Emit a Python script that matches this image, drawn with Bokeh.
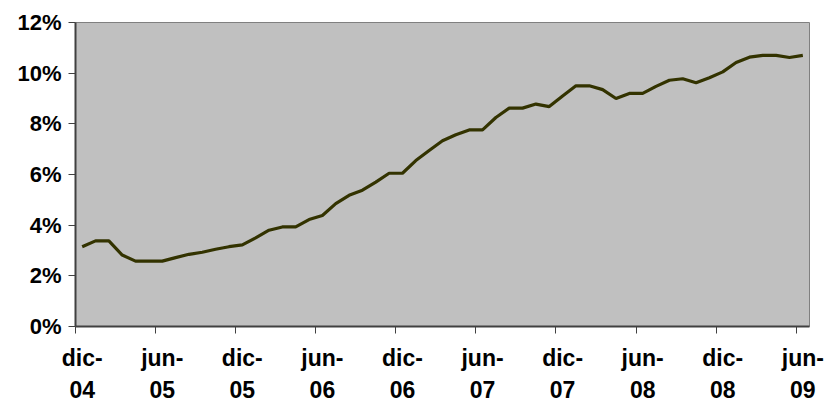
from bokeh.plotting import figure
from bokeh.models import FixedTicker, PrintfTickFormatter, Range1d, ColumnDataSource
from bokeh.embed import file_html
from bokeh.resources import INLINE

# Monthly index: 0 = dic-04 ... 54 = jun-09
months = list(range(55))
rate = [3.15, 3.38, 3.38, 2.82, 2.58, 2.58, 2.58, 2.72, 2.85, 2.93,
        3.05, 3.15, 3.22, 3.50, 3.80, 3.93, 3.93, 4.22, 4.38, 4.85,
        5.18, 5.38, 5.70, 6.05, 6.05, 6.55, 6.95, 7.33, 7.57, 7.76,
        7.76, 8.25, 8.62, 8.62, 8.78, 8.68, 9.10, 9.50, 9.50, 9.35,
        9.00, 9.20, 9.20, 9.48, 9.72, 9.78, 9.62, 9.82, 10.05, 10.42,
        10.63, 10.70, 10.70, 10.62, 10.70]

label_months = [0, 6, 12, 18, 24, 30, 36, 42, 48, 54]
tick_labels = ["dic-\n04", "jun-\n05", "dic-\n05", "jun-\n06", "dic-\n06",
               "jun-\n07", "dic-\n07", "jun-\n08", "dic-\n08", "jun-\n09"]
y_ticks = [0, 2, 4, 6, 8, 10, 12]

src = ColumnDataSource(dict(x=months, y=rate))

p = figure(width=827, height=405, output_backend="svg", toolbar_location=None,
           x_range=Range1d(-0.5, 54.5), y_range=Range1d(0, 12),
           min_border_left=75, min_border_right=18, min_border_top=22,
           min_border_bottom=79,
           background_fill_color="#C0C0C0", border_fill_color="white")

p.line("x", "y", source=src, line_color="#333300", line_width=3.2)

p.grid.visible = False
p.outline_line_color = "#808080"
p.outline_line_width = 1

FONT = "Liberation Sans"

xa = p.xaxis[0]
xa.ticker = FixedTicker(ticks=label_months,
                        minor_ticks=[m - 0.5 for m in label_months])
xa.major_label_overrides = {m: t for m, t in zip(label_months, tick_labels)}
xa.major_tick_out = 0
xa.major_tick_in = 0
xa.minor_tick_out = 7
xa.minor_tick_in = 0
xa.minor_tick_line_color = "#404040"
xa.minor_tick_line_width = 1
xa.axis_line_color = "#404040"
xa.axis_line_width = 2
xa.major_label_standoff = 11
xa.major_label_text_font = FONT
xa.major_label_text_font_style = "bold"
xa.major_label_text_font_size = "23px"
xa.major_label_text_color = "black"
xa.major_label_text_line_height = 1.24

ya = p.yaxis[0]
ya.ticker = FixedTicker(ticks=y_ticks, minor_ticks=[])
ya.formatter = PrintfTickFormatter(format="%d%%")
ya.major_tick_out = 7
ya.major_tick_in = 0
ya.major_tick_line_color = "#404040"
ya.axis_line_color = "#404040"
ya.axis_line_width = 2
ya.major_label_standoff = 7
ya.major_label_text_font = FONT
ya.major_label_text_font_style = "bold"
ya.major_label_text_font_size = "22px"
ya.major_label_text_color = "black"

open("out.html", "w").write(file_html(p, INLINE))
